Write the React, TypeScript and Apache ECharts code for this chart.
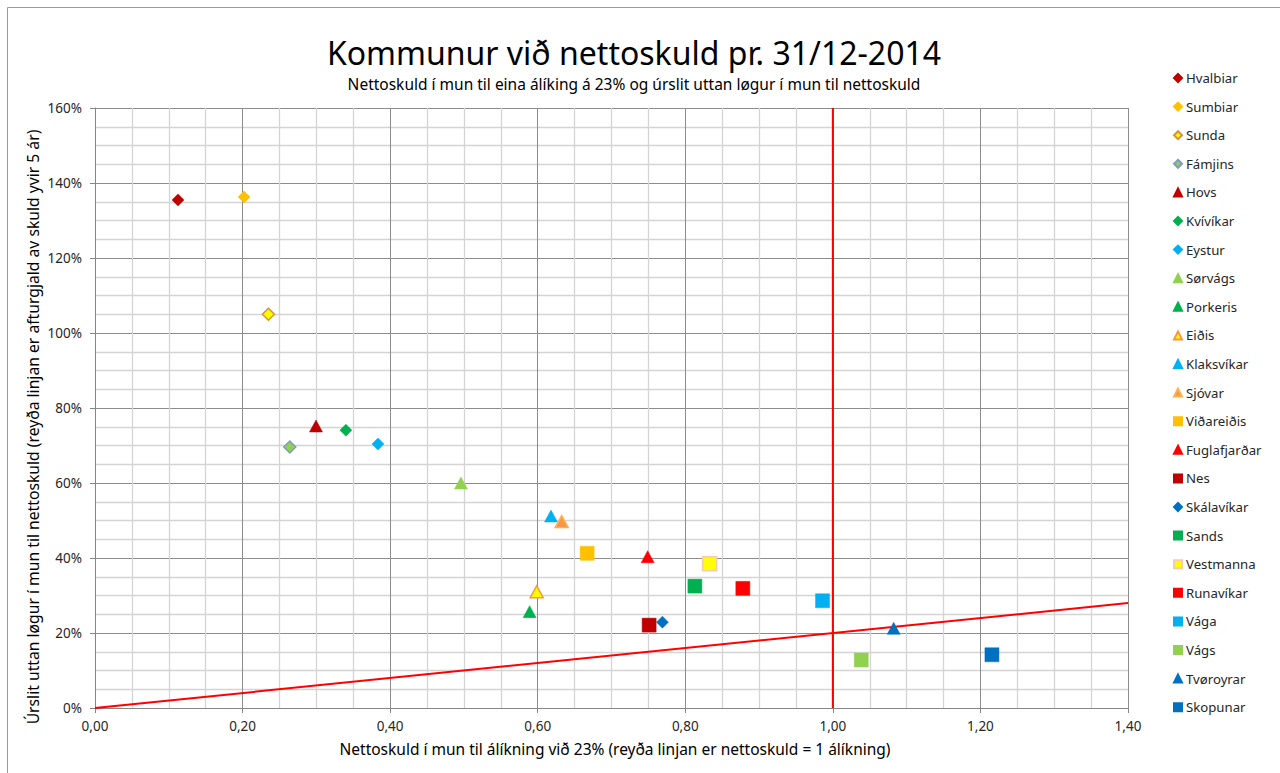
import { useEffect, useRef } from "react";
import * as echarts from "echarts";

const municipalities = [
  "Hvalbiar", "Sumbiar", "Sunda", "Fámjins", "Hovs", "Kvívíkar", "Eystur", "Sørvágs",
  "Porkeris", "Eiðis", "Klaksvíkar", "Sjóvar", "Viðareiðis", "Fuglafjarðar", "Nes",
  "Skálavíkar", "Sands", "Vestmanna", "Runavíkar", "Vága", "Vágs", "Tvøroyrar", "Skopunar",
];
const netDebtRatio = [
  0.1125, 0.202, 0.235, 0.264, 0.2995, 0.34, 0.3835, 0.496,
  0.589, 0.5986, 0.618, 0.6325, 0.667, 0.749, 0.751,
  0.769, 0.813, 0.833, 0.878, 0.986, 1.0385, 1.0824, 1.2156,
];
const resultRatio = [
  1.355, 1.363, 1.05, 0.696, 0.752, 0.741, 0.704, 0.6,
  0.257, 0.31, 0.512, 0.497, 0.4125, 0.4035, 0.221,
  0.229, 0.325, 0.385, 0.319, 0.286, 0.128, 0.2125, 0.142,
];
const markerShapes = [
  "diamond", "diamond", "diamond", "diamond", "triangle", "diamond", "diamond", "triangle",
  "triangle", "triangle", "triangle", "triangle", "rect", "triangle", "rect",
  "diamond", "rect", "rect", "rect", "rect", "rect", "triangle", "rect",
];
const fillColors = [
  "#C00000", "#FFC000", "#FFFF00", "#92D050", "#C00000", "#00B050", "#00B0F0", "#92D050",
  "#00B050", "#FFFF00", "#00B0F0", "#F79646", "#FFC000", "#FF0000", "#C00000",
  "#0070C0", "#00B050", "#FFFF00", "#FF0000", "#00B0F0", "#92D050", "#0070C0", "#0070C0",
];
const borderColors = [
  null, null, "#D8903A", "#7F9CC0", null, null, null, null,
  null, "#F79646", null, "#FFB050", null, null, null,
  null, null, "#F8CBAD", null, null, null, null, null,
];

const xTicks = { min: 0, max: 1.4, step: 0.2 };
const yTicks = { min: 0, max: 1.6, step: 0.2 };
const debtRepaymentLine = [[0, 0], [1.4, 0.28]];
const oneLevyLine = [[1, 0], [1, 1.6]];

const FONT = "'Noto Sans', 'Open Sans', sans-serif";

export default function App() {
  const ref = useRef<HTMLDivElement>(null);

  useEffect(() => {
    if (!ref.current) return;
    const chart = echarts.init(ref.current, undefined, { renderer: "svg" });

    const sizeFor = (shape: string) =>
      shape === "diamond" ? 12 : shape === "triangle" ? [13, 12] : 14;

    const scatterSeries = municipalities.map((name, i) => ({
      type: "scatter",
      name,
      data: [[netDebtRatio[i], resultRatio[i]]],
      symbol: markerShapes[i],
      symbolSize: sizeFor(markerShapes[i]),
      itemStyle: {
        color: fillColors[i],
        borderColor: borderColors[i] || fillColors[i],
        borderWidth: borderColors[i] ? 1.5 : 0.5,
        opacity: 1,
      },
      z: 4,
    }));

    const lineStyle = { color: "#FF0000", width: 2 };

    chart.setOption({
      animation: false,
      backgroundColor: "#ffffff",
      textStyle: { fontFamily: FONT },
      grid: { left: 95, top: 108, width: 1033, height: 600, containLabel: false },
      xAxis: {
        type: "value",
        min: xTicks.min,
        max: xTicks.max,
        interval: xTicks.step,
        axisLine: { show: true, onZero: false, lineStyle: { color: "#868686", width: 1 } },
        axisTick: { show: true, length: 5, lineStyle: { color: "#868686" } },
        minorTick: { show: false, splitNumber: 4 },
        splitLine: { show: true, lineStyle: { color: "#8C8C8C", width: 1 } },
        minorSplitLine: { show: true, lineStyle: { color: "#D4D4D4", width: 1.3 } },
        axisLabel: {
          margin: 11,
          fontSize: 13.5,
          color: "#262626",
          fontFamily: FONT,
          formatter: (v: number) => v.toFixed(2).replace(".", ","),
        },
      },
      yAxis: {
        type: "value",
        min: yTicks.min,
        max: yTicks.max,
        interval: yTicks.step,
        axisLine: { show: true, onZero: false, lineStyle: { color: "#868686", width: 1 } },
        axisTick: { show: true, length: 5, lineStyle: { color: "#868686" } },
        minorTick: { show: false, splitNumber: 4 },
        splitLine: { show: true, lineStyle: { color: "#8C8C8C", width: 1 } },
        minorSplitLine: { show: true, lineStyle: { color: "#D4D4D4", width: 1.3 } },
        axisLabel: {
          margin: 13,
          fontSize: 13.5,
          color: "#262626",
          fontFamily: FONT,
          formatter: (v: number) => Math.round(v * 100) + "%",
        },
      },
      legend: {
        orient: "vertical",
        left: 1173,
        top: 70,
        padding: 0,
        itemWidth: 8,
        itemHeight: 8,
        itemGap: 12.6,
        data: municipalities,
        textStyle: { fontSize: 13.2, lineHeight: 16, color: "#262626", fontFamily: FONT, padding: [0, 0, 0, -1] },
        selectedMode: false,
      },
      graphic: [
        {
          type: "rect",
          shape: { x: 7.5, y: 7.5, width: 1300, height: 800 },
          style: { fill: "none", stroke: "#9A9A9A", lineWidth: 1 },
          silent: true,
        },
        {
          type: "text",
          x: 634,
          y: 52,
          style: {
            text: "Kommunur við nettoskuld pr. 31/12-2014",
            fontSize: 32,
            fontFamily: FONT,
            fill: "#000000",
            align: "center",
            verticalAlign: "middle",
          },
        },
        {
          type: "text",
          x: 634,
          y: 84,
          style: {
            text: "Nettoskuld í mun til eina álíking á 23% og úrslit uttan løgur í mun til nettoskuld",
            fontSize: 15.5,
            fontFamily: FONT,
            fill: "#000000",
            align: "center",
            verticalAlign: "middle",
          },
        },
        {
          type: "text",
          x: 615,
          y: 749,
          style: {
            text: "Nettoskuld í mun til álíkning við 23% (reyða linjan er nettoskuld = 1 álíkning)",
            fontSize: 15.5,
            fontFamily: FONT,
            fill: "#000000",
            align: "center",
            verticalAlign: "middle",
          },
        },
        {
          type: "text",
          x: 33,
          y: 427,
          rotation: Math.PI / 2,
          style: {
            text: "Úrslit uttan løgur í mun til nettoskuld (reyða linjan er afturgjald av skuld yvir 5 ár)",
            fontSize: 15.7,
            fontFamily: FONT,
            fill: "#000000",
            align: "center",
            verticalAlign: "middle",
          },
        },
      ],
      series: [
        {
          type: "line",
          name: "reyð linja 1",
          data: debtRepaymentLine,
          symbol: "none",
          lineStyle,
          silent: true,
          z: 3,
        },
        {
          type: "line",
          name: "reyð linja 2",
          data: oneLevyLine,
          symbol: "none",
          lineStyle,
          silent: true,
          z: 3,
        },
        ...scatterSeries,
      ],
    });

    return () => chart.dispose();
  }, []);

  return (
    <div
      ref={ref}
      style={{ position: "absolute", left: 0, top: 0, width: 1280, height: 773 }}
    />
  );
}
